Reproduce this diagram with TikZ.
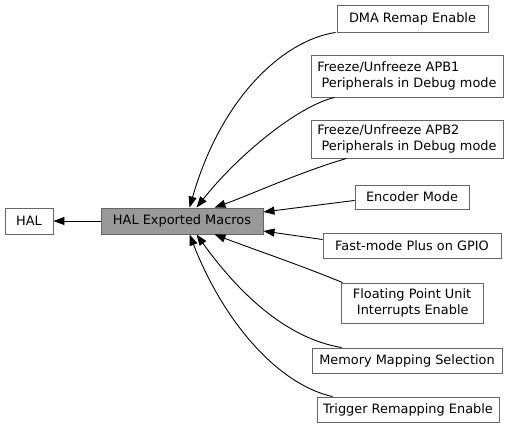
\documentclass[tikz,border=0pt]{standalone}
\usepackage{fontspec}
\setmainfont{DejaVu Sans}
\usetikzlibrary{arrows.meta,calc}
\begin{document}
\begin{tikzpicture}[x=1pt,y=-1pt,
  box/.style={draw=black!60,fill=white,line width=0.9pt,inner sep=0pt,font=\fontsize{12.9}{15.5}\selectfont},
  edge/.style={draw=black,line width=0.9pt,-{Triangle[length=11pt,width=8pt]}},
  ]
\useasboundingbox (0,0) rectangle (519,428);
\newcommand{\bx}[6]{\node[box,minimum width=#4-#2,minimum height=#5-#3,#6] (#1) at ({(#2+#4)/2},{(#3+#5)/2})}
\bx{hal}{5}{208}{53}{234}{}{HAL};
\bx{mac}{101}{208}{263}{234}{fill=black!40}{HAL Exported Macros};
\bx{dma}{337}{5}{488}{32}{}{DMA Remap Enable};
\bx{apb1}{311}{55}{503}{97}{align=left}{Freeze/Unfreeze APB1\\\hspace*{.32em}Peripherals in Debug mode};
\bx{apb2}{311}{120}{503}{158}{align=left}{Freeze/Unfreeze APB2\\\hspace*{.32em}Peripherals in Debug mode};
\bx{enc}{355}{185}{469}{209}{}{Encoder Mode};
\bx{fmp}{323}{233}{501}{258}{}{Fast-mode Plus on GPIO};
\bx{fpu}{341}{283}{483}{323}{align=left}{Floating Point Unit\\\hspace*{.32em}Interrupts Enable};
\bx{mem}{312}{348}{502}{373}{}{Memory Mapping Selection};
\bx{trg}{317}{397}{499}{422}{}{Trigger Remapping Enable};
\draw[edge] (mac.west) -- (hal.east);
\draw[edge] ([xshift=-1pt]dma.south west) .. controls (285,40) and (222,95) .. ([xshift=89pt]mac.north west);
\draw[edge] ([xshift=24pt]apb1.south west) .. controls (298,106) and (238,155) .. ([xshift=96pt]mac.north west);
\draw[edge] ([xshift=36pt]apb2.south west) .. controls (300,172) and (250,195) .. ([xshift=114pt]mac.north west);
\draw[edge] ([yshift=9pt]enc.south west) -- ([yshift=9pt]mac.east);
\draw[edge] ([yshift=-7pt]fmp.north west) -- ([yshift=-10pt]mac.east);
\draw[edge] ([xshift=2pt]fpu.north west) .. controls (300,265) and (250,248) .. ([xshift=114pt]mac.south west);
\draw[edge] ([xshift=30pt]mem.north west) .. controls (285,338) and (238,292) .. ([xshift=96pt]mac.south west);
\draw[edge] ([xshift=16pt]trg.north west) .. controls (280,385) and (225,325) .. ([xshift=89pt]mac.south west);
\end{tikzpicture}
\end{document}
